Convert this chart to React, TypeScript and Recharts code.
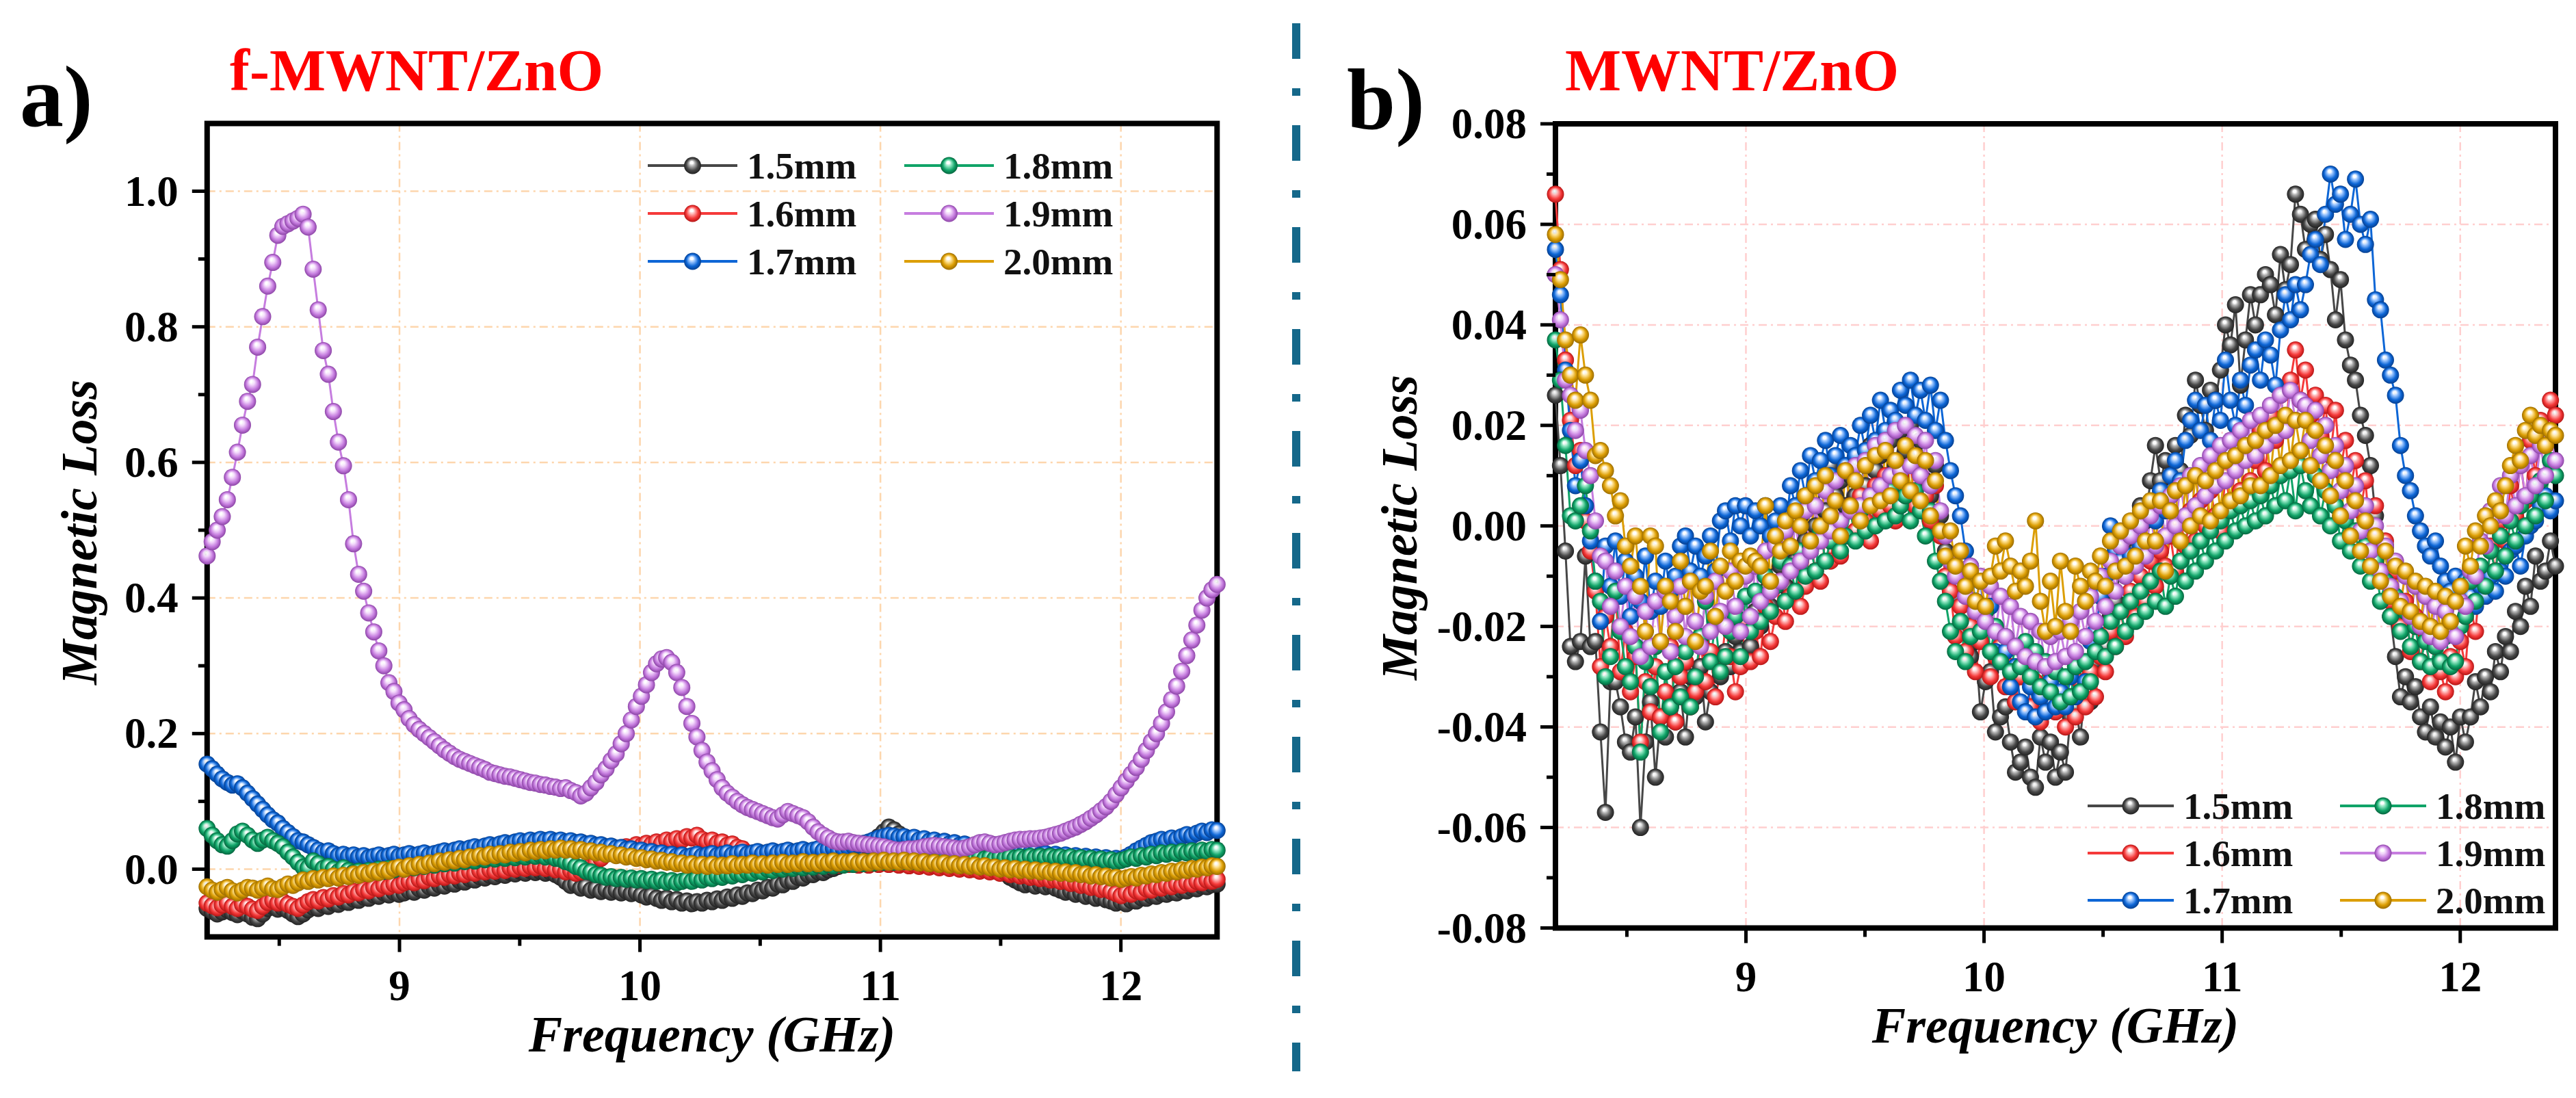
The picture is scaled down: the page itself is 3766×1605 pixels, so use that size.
import React from 'react';
import {
  LineChart,
  Line,
  XAxis,
  YAxis,
  CartesianGrid,
  ReferenceArea,
  Legend,
} from 'recharts';

const SERIF = '"Liberation Serif", "Times New Roman", Times, serif';

// Sweep frequencies (GHz), 201 points across the X band, shared by both panels
const FREQ_GHZ = [
  8.200, 8.221, 8.242, 8.263, 8.284, 8.305, 8.326, 8.347, 8.368, 8.389,
  8.410, 8.431, 8.452, 8.473, 8.494, 8.515, 8.536, 8.557, 8.578, 8.599,
  8.620, 8.641, 8.662, 8.683, 8.704, 8.725, 8.746, 8.767, 8.788, 8.809,
  8.830, 8.851, 8.872, 8.893, 8.914, 8.935, 8.956, 8.977, 8.998, 9.019,
  9.040, 9.061, 9.082, 9.103, 9.124, 9.145, 9.166, 9.187, 9.208, 9.229,
  9.250, 9.271, 9.292, 9.313, 9.334, 9.355, 9.376, 9.397, 9.418, 9.439,
  9.460, 9.481, 9.502, 9.523, 9.544, 9.565, 9.586, 9.607, 9.628, 9.649,
  9.670, 9.691, 9.712, 9.733, 9.754, 9.775, 9.796, 9.817, 9.838, 9.859,
  9.880, 9.901, 9.922, 9.943, 9.964, 9.985, 10.006, 10.027, 10.048, 10.069,
  10.090, 10.111, 10.132, 10.153, 10.174, 10.195, 10.216, 10.237, 10.258, 10.279,
  10.300, 10.321, 10.342, 10.363, 10.384, 10.405, 10.426, 10.447, 10.468, 10.489,
  10.510, 10.531, 10.552, 10.573, 10.594, 10.615, 10.636, 10.657, 10.678, 10.699,
  10.720, 10.741, 10.762, 10.783, 10.804, 10.825, 10.846, 10.867, 10.888, 10.909,
  10.930, 10.951, 10.972, 10.993, 11.014, 11.035, 11.056, 11.077, 11.098, 11.119,
  11.140, 11.161, 11.182, 11.203, 11.224, 11.245, 11.266, 11.287, 11.308, 11.329,
  11.350, 11.371, 11.392, 11.413, 11.434, 11.455, 11.476, 11.497, 11.518, 11.539,
  11.560, 11.581, 11.602, 11.623, 11.644, 11.665, 11.686, 11.707, 11.728, 11.749,
  11.770, 11.791, 11.812, 11.833, 11.854, 11.875, 11.896, 11.917, 11.938, 11.959,
  11.980, 12.001, 12.022, 12.043, 12.064, 12.085, 12.106, 12.127, 12.148, 12.169,
  12.190, 12.211, 12.232, 12.253, 12.274, 12.295, 12.316, 12.337, 12.358, 12.379,
  12.400,
];

// ---- panel a: f-MWNT/ZnO magnetic loss ----
const A_15MM = [
  -0.058, -0.062, -0.066, -0.063, -0.060, -0.064, -0.067, -0.062, -0.066, -0.071,
  -0.073, -0.066, -0.058, -0.055, -0.059, -0.057, -0.061, -0.066, -0.070, -0.066,
  -0.060, -0.056, -0.058, -0.053, -0.055, -0.050, -0.052, -0.047, -0.049, -0.044,
  -0.046, -0.041, -0.043, -0.038, -0.040, -0.035, -0.038, -0.034, -0.037, -0.035,
  -0.032, -0.034, -0.029, -0.031, -0.026, -0.028, -0.023, -0.025, -0.020, -0.022,
  -0.017, -0.019, -0.014, -0.016, -0.011, -0.013, -0.009, -0.011, -0.007, -0.009,
  -0.005, -0.007, -0.003, -0.006, -0.002, -0.005, -0.003, -0.006, -0.004, -0.008,
  -0.012, -0.018, -0.024, -0.022, -0.028, -0.026, -0.031, -0.029, -0.033, -0.030,
  -0.034, -0.031, -0.035, -0.032, -0.036, -0.034, -0.038, -0.041, -0.039, -0.043,
  -0.046, -0.043, -0.048, -0.045, -0.050, -0.047, -0.051, -0.048, -0.050, -0.046,
  -0.048, -0.044, -0.046, -0.041, -0.043, -0.038, -0.040, -0.035, -0.036, -0.031,
  -0.032, -0.027, -0.028, -0.022, -0.023, -0.017, -0.018, -0.012, -0.013, -0.008,
  -0.008, -0.004, -0.005, -0.001, 0.001, 0.004, 0.008, 0.012, 0.016, 0.020,
  0.026, 0.032, 0.040, 0.048, 0.055, 0.062, 0.058, 0.052, 0.048, 0.044,
  0.046, 0.041, 0.043, 0.038, 0.040, 0.035, 0.037, 0.033, 0.034, 0.030,
  0.031, 0.026, 0.024, 0.018, 0.014, 0.008, 0.004, -0.002, -0.006, -0.012,
  -0.016, -0.020, -0.023, -0.021, -0.025, -0.022, -0.026, -0.024, -0.028, -0.031,
  -0.034, -0.032, -0.037, -0.035, -0.040, -0.038, -0.043, -0.041, -0.045, -0.047,
  -0.050, -0.048, -0.051, -0.046, -0.047, -0.042, -0.043, -0.039, -0.040, -0.036,
  -0.037, -0.034, -0.035, -0.031, -0.032, -0.028, -0.029, -0.025, -0.026, -0.023,
  -0.022,
];
const A_16MM = [
  -0.050, -0.054, -0.057, -0.053, -0.050, -0.055, -0.058, -0.052, -0.055, -0.059,
  -0.061, -0.055, -0.049, -0.046, -0.050, -0.048, -0.052, -0.055, -0.058, -0.053,
  -0.048, -0.045, -0.047, -0.042, -0.044, -0.039, -0.041, -0.036, -0.038, -0.033,
  -0.035, -0.030, -0.032, -0.027, -0.029, -0.024, -0.026, -0.022, -0.024, -0.020,
  -0.018, -0.020, -0.015, -0.017, -0.012, -0.014, -0.010, -0.012, -0.008, -0.010,
  -0.006, -0.008, -0.004, -0.006, -0.002, -0.004, -0.001, -0.003, 0.000, -0.002,
  0.002, 0.000, 0.003, 0.001, 0.004, 0.002, 0.005, 0.001, 0.003, -0.001,
  0.000, -0.004, -0.002, -0.006, -0.004, -0.001, 0.004, 0.010, 0.016, 0.022,
  0.026, 0.030, 0.028, 0.033, 0.031, 0.036, 0.034, 0.038, 0.036, 0.040,
  0.038, 0.043, 0.041, 0.045, 0.043, 0.048, 0.046, 0.050, 0.044, 0.041,
  0.043, 0.038, 0.040, 0.035, 0.037, 0.032, 0.030, 0.024, 0.020, 0.015,
  0.012, 0.009, 0.010, 0.007, 0.009, 0.006, 0.008, 0.006, 0.008, 0.005,
  0.007, 0.005, 0.008, 0.006, 0.009, 0.006, 0.008, 0.007, 0.009, 0.006,
  0.008, 0.006, 0.009, 0.007, 0.010, 0.007, 0.009, 0.006, 0.008, 0.005,
  0.007, 0.004, 0.006, 0.003, 0.005, 0.002, 0.004, 0.001, 0.003, 0.000,
  0.002, -0.001, 0.000, -0.003, -0.001, -0.004, -0.002, -0.006, -0.004, -0.008,
  -0.007, -0.010, -0.009, -0.012, -0.011, -0.014, -0.013, -0.016, -0.015, -0.018,
  -0.017, -0.021, -0.020, -0.024, -0.023, -0.027, -0.026, -0.030, -0.029, -0.033,
  -0.036, -0.039, -0.035, -0.037, -0.032, -0.034, -0.029, -0.031, -0.026, -0.028,
  -0.024, -0.026, -0.022, -0.024, -0.020, -0.022, -0.018, -0.020, -0.016, -0.018,
  -0.015,
];
const A_17MM = [
  0.155, 0.148, 0.140, 0.133, 0.128, 0.124, 0.126, 0.120, 0.112, 0.104,
  0.096, 0.088, 0.080, 0.073, 0.068, 0.060, 0.054, 0.048, 0.042, 0.040,
  0.036, 0.032, 0.028, 0.025, 0.027, 0.023, 0.020, 0.022, 0.019, 0.021,
  0.018, 0.020, 0.017, 0.019, 0.021, 0.018, 0.020, 0.022, 0.019, 0.021,
  0.023, 0.020, 0.022, 0.024, 0.021, 0.023, 0.025, 0.027, 0.025, 0.028,
  0.030, 0.028, 0.031, 0.033, 0.031, 0.034, 0.036, 0.034, 0.037, 0.039,
  0.037, 0.040, 0.042, 0.040, 0.043, 0.041, 0.044, 0.042, 0.044, 0.041,
  0.043, 0.040, 0.042, 0.039, 0.040, 0.037, 0.038, 0.035, 0.036, 0.033,
  0.034, 0.031, 0.032, 0.029, 0.030, 0.027, 0.028, 0.025, 0.026, 0.023,
  0.024, 0.021, 0.022, 0.019, 0.021, 0.018, 0.020, 0.022, 0.019, 0.021,
  0.023, 0.020, 0.022, 0.024, 0.021, 0.023, 0.025, 0.022, 0.024, 0.026,
  0.023, 0.025, 0.027, 0.024, 0.026, 0.028, 0.025, 0.027, 0.029, 0.026,
  0.028, 0.030, 0.027, 0.029, 0.031, 0.028, 0.030, 0.032, 0.034, 0.036,
  0.038, 0.040, 0.043, 0.046, 0.048, 0.050, 0.049, 0.047, 0.048, 0.045,
  0.047, 0.043, 0.045, 0.041, 0.043, 0.039, 0.041, 0.037, 0.039, 0.035,
  0.037, 0.033, 0.035, 0.031, 0.033, 0.029, 0.031, 0.027, 0.029, 0.026,
  0.028, 0.024, 0.026, 0.023, 0.025, 0.021, 0.023, 0.020, 0.022, 0.019,
  0.021, 0.018, 0.020, 0.017, 0.019, 0.016, 0.018, 0.015, 0.017, 0.014,
  0.016, 0.014, 0.018, 0.022, 0.027, 0.031, 0.035, 0.039, 0.041, 0.044,
  0.042, 0.046, 0.044, 0.048, 0.051, 0.049, 0.053, 0.056, 0.054, 0.058,
  0.057,
];
const A_18MM = [
  0.060, 0.050, 0.042, 0.036, 0.034, 0.042, 0.052, 0.056, 0.050, 0.043,
  0.038, 0.043, 0.047, 0.042, 0.038, 0.033, 0.025, 0.018, 0.010, 0.003,
  0.002, 0.012, 0.008, 0.001, 0.004, 0.000, -0.004, 0.002, -0.002, -0.005,
  -0.003, -0.006, -0.002, -0.004, 0.000, -0.003, 0.001, -0.001, 0.002, 0.000,
  0.004, 0.002, 0.006, 0.004, 0.008, 0.006, 0.010, 0.008, 0.011, 0.009,
  0.013, 0.011, 0.014, 0.012, 0.016, 0.014, 0.017, 0.015, 0.018, 0.016,
  0.019, 0.017, 0.020, 0.018, 0.021, 0.019, 0.021, 0.018, 0.020, 0.016,
  0.015, 0.011, 0.009, 0.004, 0.002, -0.003, -0.004, -0.008, -0.009, -0.012,
  -0.011, -0.014, -0.012, -0.015, -0.013, -0.016, -0.014, -0.017, -0.015, -0.018,
  -0.016, -0.019, -0.017, -0.020, -0.018, -0.016, -0.018, -0.014, -0.016, -0.012,
  -0.014, -0.010, -0.012, -0.008, -0.010, -0.006, -0.008, -0.004, -0.006, -0.002,
  -0.004, 0.000, -0.002, 0.002, 0.000, 0.003, 0.001, 0.004, 0.002, 0.005,
  0.003, 0.006, 0.004, 0.007, 0.005, 0.008, 0.006, 0.009, 0.007, 0.010,
  0.008, 0.011, 0.009, 0.012, 0.010, 0.012, 0.010, 0.013, 0.011, 0.013,
  0.011, 0.014, 0.012, 0.014, 0.012, 0.015, 0.013, 0.015, 0.013, 0.016,
  0.014, 0.016, 0.014, 0.017, 0.015, 0.017, 0.015, 0.018, 0.016, 0.018,
  0.016, 0.018, 0.016, 0.019, 0.017, 0.019, 0.017, 0.019, 0.017, 0.018,
  0.016, 0.018, 0.015, 0.017, 0.014, 0.016, 0.013, 0.015, 0.012, 0.014,
  0.011, 0.013, 0.015, 0.018, 0.016, 0.020, 0.018, 0.022, 0.020, 0.024,
  0.022, 0.025, 0.023, 0.026, 0.024, 0.027, 0.025, 0.028, 0.026, 0.029,
  0.028,
];
const A_19MM = [
  0.462, 0.483, 0.500, 0.520, 0.545, 0.578, 0.615, 0.655, 0.690, 0.715,
  0.770, 0.815, 0.860, 0.895, 0.935, 0.948, 0.952, 0.956, 0.960, 0.966,
  0.947, 0.885, 0.825, 0.765, 0.730, 0.675, 0.630, 0.595, 0.545, 0.480,
  0.435, 0.410, 0.378, 0.350, 0.322, 0.300, 0.275, 0.262, 0.245, 0.235,
  0.222, 0.213, 0.206, 0.200, 0.194, 0.188, 0.182, 0.176, 0.171, 0.166,
  0.162, 0.159, 0.156, 0.153, 0.150, 0.147, 0.143, 0.141, 0.139, 0.137,
  0.136, 0.134, 0.132, 0.130, 0.128, 0.127, 0.125, 0.124, 0.122, 0.121,
  0.119, 0.120, 0.116, 0.113, 0.108, 0.112, 0.120, 0.128, 0.139, 0.148,
  0.160, 0.170, 0.185, 0.200, 0.220, 0.240, 0.255, 0.272, 0.290, 0.303,
  0.310, 0.312, 0.305, 0.290, 0.268, 0.240, 0.215, 0.195, 0.175, 0.158,
  0.145, 0.132, 0.120, 0.112, 0.106, 0.100, 0.095, 0.091, 0.088, 0.085,
  0.082, 0.079, 0.076, 0.074, 0.080, 0.085, 0.082, 0.079, 0.076, 0.070,
  0.062, 0.055, 0.050, 0.046, 0.042, 0.040, 0.040, 0.041, 0.039, 0.038,
  0.037, 0.036, 0.035, 0.034, 0.033, 0.031, 0.029, 0.028, 0.029, 0.030,
  0.030, 0.031, 0.033, 0.034, 0.035, 0.034, 0.033, 0.032, 0.031, 0.030,
  0.031, 0.033, 0.036, 0.039, 0.040, 0.038, 0.036, 0.037, 0.039, 0.041,
  0.043, 0.044, 0.044, 0.045, 0.045, 0.046, 0.047, 0.049, 0.051, 0.053,
  0.056, 0.059, 0.062, 0.066, 0.070, 0.075, 0.080, 0.086, 0.092, 0.100,
  0.110, 0.120, 0.130, 0.140, 0.150, 0.162, 0.175, 0.188, 0.200, 0.215,
  0.232, 0.250, 0.270, 0.292, 0.315, 0.338, 0.360, 0.382, 0.400, 0.412,
  0.420,
];
const A_20MM = [
  -0.026, -0.031, -0.034, -0.030, -0.027, -0.032, -0.035, -0.031, -0.027, -0.028,
  -0.031, -0.028, -0.025, -0.029, -0.030, -0.026, -0.022, -0.024, -0.020, -0.016,
  -0.018, -0.014, -0.016, -0.012, -0.014, -0.010, -0.013, -0.009, -0.011, -0.007,
  -0.009, -0.005, -0.007, -0.003, -0.005, -0.001, -0.003, 0.001, 0.003, 0.000,
  0.005, 0.003, 0.007, 0.005, 0.009, 0.008, 0.012, 0.010, 0.014, 0.012,
  0.016, 0.014, 0.018, 0.017, 0.020, 0.018, 0.022, 0.020, 0.023, 0.021,
  0.025, 0.023, 0.026, 0.024, 0.028, 0.026, 0.029, 0.027, 0.030, 0.028,
  0.031, 0.028, 0.030, 0.027, 0.029, 0.026, 0.027, 0.024, 0.025, 0.022,
  0.023, 0.020, 0.021, 0.018, 0.019, 0.016, 0.017, 0.014, 0.015, 0.012,
  0.013, 0.010, 0.011, 0.008, 0.009, 0.006, 0.008, 0.005, 0.007, 0.004,
  0.007, 0.004, 0.006, 0.005, 0.008, 0.005, 0.007, 0.006, 0.009, 0.006,
  0.008, 0.006, 0.009, 0.007, 0.010, 0.007, 0.009, 0.008, 0.011, 0.008,
  0.010, 0.008, 0.011, 0.009, 0.012, 0.009, 0.011, 0.010, 0.012, 0.009,
  0.011, 0.009, 0.012, 0.010, 0.013, 0.010, 0.012, 0.010, 0.013, 0.010,
  0.012, 0.009, 0.011, 0.008, 0.010, 0.007, 0.009, 0.006, 0.008, 0.005,
  0.007, 0.004, 0.006, 0.003, 0.005, 0.002, 0.003, 0.000, 0.002, -0.001,
  0.001, -0.002, 0.000, -0.003, -0.001, -0.004, -0.002, -0.005, -0.003, -0.006,
  -0.004, -0.007, -0.005, -0.008, -0.007, -0.010, -0.008, -0.011, -0.010, -0.013,
  -0.012, -0.015, -0.013, -0.011, -0.013, -0.009, -0.010, -0.007, -0.008, -0.005,
  -0.006, -0.003, -0.004, -0.001, -0.002, 0.001, 0.000, 0.003, 0.002, 0.005,
  0.004,
];

// ---- panel b: MWNT/ZnO magnetic loss ----
const B_15MM = [
  0.026, 0.012, -0.005, -0.024, -0.027, -0.023, -0.006, -0.024, -0.023, -0.041,
  -0.057, -0.031, -0.031, -0.036, -0.043, -0.045, -0.038, -0.060, -0.043, -0.035,
  -0.050, -0.038, -0.042, -0.036, -0.039, -0.033, -0.042, -0.030, -0.034, -0.028,
  -0.039, -0.033, -0.027, -0.030, -0.025, -0.028, -0.022, -0.025, -0.020, -0.024,
  -0.017, -0.020, -0.013, -0.016, -0.010, -0.008, -0.012, -0.005, -0.007, 0.002,
  -0.003, 0.004, 0.000, 0.008, 0.003, 0.012, 0.006, 0.009, 0.004, 0.010,
  0.006, 0.013, 0.008, 0.016, 0.011, 0.014, 0.009, 0.017, 0.012, 0.019,
  0.015, 0.020, 0.012, 0.017, 0.009, 0.006, 0.012, 0.002, -0.005, -0.010,
  -0.014, -0.021, -0.018, -0.026, -0.023, -0.037, -0.031, -0.029, -0.041, -0.038,
  -0.036, -0.043, -0.049, -0.047, -0.044, -0.050, -0.052, -0.042, -0.047, -0.043,
  -0.050, -0.045, -0.049, -0.038, -0.036, -0.042, -0.031, -0.035, -0.027, -0.022,
  -0.024, -0.018, -0.015, -0.008, -0.010, -0.002, -0.005, 0.004, 0.001, 0.009,
  0.016, 0.009, 0.013, 0.006, 0.016, 0.011, 0.022, 0.018, 0.029, 0.024,
  0.019, 0.027, 0.025, 0.031, 0.040, 0.036, 0.044, 0.028, 0.037, 0.046,
  0.040, 0.046, 0.050, 0.048, 0.042, 0.054, 0.047, 0.052, 0.066, 0.062,
  0.055, 0.060, 0.061, 0.053, 0.058, 0.051, 0.041, 0.049, 0.037, 0.032,
  0.029, 0.022, 0.018, 0.012, 0.002, -0.009, -0.004, -0.018, -0.026, -0.034,
  -0.030, -0.035, -0.032, -0.038, -0.041, -0.036, -0.042, -0.039, -0.044, -0.040,
  -0.047, -0.038, -0.043, -0.038, -0.031, -0.036, -0.030, -0.033, -0.025, -0.029,
  -0.022, -0.025, -0.017, -0.020, -0.012, -0.016, -0.006, -0.011, -0.009, -0.003,
  -0.008,
];
const B_16MM = [
  0.066, 0.051, 0.033, 0.021, 0.012, 0.015, 0.001, -0.005, -0.013, -0.028,
  -0.018, -0.024, -0.013, -0.029, -0.021, -0.033, -0.026, -0.043, -0.031, -0.037,
  -0.028, -0.038, -0.033, -0.024, -0.039, -0.030, -0.027, -0.036, -0.033, -0.023,
  -0.031, -0.025, -0.034, -0.029, -0.020, -0.026, -0.033, -0.028, -0.019, -0.027,
  -0.021, -0.026, -0.016, -0.023, -0.018, -0.011, -0.019, -0.014, -0.008, -0.016,
  -0.012, -0.003, -0.009, -0.011, -0.002, -0.007, 0.001, -0.006, -0.002, 0.004,
  -0.001, 0.006, 0.001, -0.003, 0.008, 0.003, 0.010, 0.004, 0.001, 0.010,
  0.007, 0.012, 0.004, 0.010, 0.006, 0.001, 0.008, -0.002, -0.010, -0.013,
  -0.022, -0.016, -0.025, -0.020, -0.029, -0.023, -0.019, -0.030, -0.026, -0.024,
  -0.032, -0.028, -0.035, -0.030, -0.027, -0.036, -0.031, -0.039, -0.033, -0.029,
  -0.037, -0.033, -0.040, -0.034, -0.038, -0.031, -0.036, -0.029, -0.034, -0.026,
  -0.029, -0.021, -0.024, -0.017, -0.022, -0.013, -0.018, -0.010, -0.015, -0.007,
  -0.012, -0.005, -0.008, -0.002, -0.009, 0.001, -0.004, 0.003, -0.003, 0.005,
  0.000, 0.007, 0.002, -0.001, 0.010, 0.004, 0.012, 0.007, 0.015, 0.009,
  0.013, 0.019, 0.011, 0.022, 0.017, 0.026, 0.019, 0.029, 0.035, 0.025,
  0.031, 0.022, 0.026, 0.018, 0.024, 0.014, 0.023, 0.011, 0.017, 0.007,
  0.013, 0.003, 0.009, -0.003, 0.004, -0.009, -0.003, -0.015, -0.009, -0.020,
  -0.015, -0.025, -0.018, -0.027, -0.021, -0.031, -0.024, -0.029, -0.033, -0.026,
  -0.030, -0.023, -0.028, -0.016, -0.021, -0.010, -0.014, -0.004, -0.009, 0.001,
  -0.003, 0.008, 0.002, 0.013, 0.005, 0.017, 0.010, 0.021, 0.016, 0.025,
  0.022,
];
const B_17MM = [
  0.055, 0.046, 0.031, 0.019, 0.008, 0.013, 0.004, -0.003, -0.011, -0.019,
  -0.004, -0.012, -0.003, -0.014, -0.007, -0.018, -0.010, -0.015, -0.006, -0.017,
  -0.011, -0.016, -0.007, -0.013, -0.010, -0.004, -0.002, -0.009, -0.004, -0.010,
  -0.006, -0.002, -0.009, 0.001, 0.003, -0.003, 0.004, 0.000, 0.004, -0.002,
  0.003, 0.000, 0.004, -0.002, 0.001, 0.004, -0.001, 0.008, 0.004, 0.011,
  0.006, 0.014, 0.009, 0.013, 0.017, 0.010, 0.014, 0.018, 0.012, 0.016,
  0.014, 0.020, 0.015, 0.022, 0.017, 0.025, 0.019, 0.023, 0.021, 0.027,
  0.024, 0.029, 0.022, 0.027, 0.021, 0.028, 0.019, 0.025, 0.017, 0.011,
  0.006, 0.002, -0.005, -0.008, -0.015, -0.011, -0.020, -0.016, -0.025, -0.027,
  -0.025, -0.032, -0.028, -0.035, -0.037, -0.032, -0.038, -0.034, -0.037, -0.031,
  -0.036, -0.033, -0.036, -0.030, -0.034, -0.027, -0.031, -0.023, -0.021, -0.014,
  -0.010, 0.000, -0.005, -0.007, -0.001, -0.006, 0.001, -0.004, 0.002, 0.003,
  0.001, 0.007, 0.003, 0.010, 0.013, 0.009, 0.017, 0.021, 0.025, 0.019,
  0.024, 0.017, 0.025, 0.021, 0.033, 0.025, 0.020, 0.029, 0.024, 0.032,
  0.035, 0.029, 0.037, 0.034, 0.028, 0.039, 0.046, 0.041, 0.048, 0.043,
  0.048, 0.054, 0.057, 0.052, 0.062, 0.070, 0.064, 0.066, 0.057, 0.062,
  0.069, 0.060, 0.056, 0.061, 0.045, 0.043, 0.033, 0.030, 0.026, 0.016,
  0.010, 0.007, 0.002, -0.001, -0.004, -0.006, -0.003, -0.008, -0.011, -0.013,
  -0.010, -0.015, -0.011, -0.014, -0.016, -0.012, -0.014, -0.010, -0.013, -0.009,
  -0.010, -0.005, -0.004, -0.008, -0.002, 0.000, 0.001, 0.004, 0.006, 0.003,
  0.005,
];
const B_18MM = [
  0.037, 0.029, 0.016, 0.002, 0.001, 0.004, 0.008, -0.001, -0.011, -0.015,
  -0.030, -0.026, -0.013, -0.021, -0.028, -0.031, -0.024, -0.045, -0.027, -0.032,
  -0.024, -0.041, -0.029, -0.036, -0.028, -0.034, -0.025, -0.036, -0.030, -0.022,
  -0.015, -0.027, -0.019, -0.029, -0.026, -0.021, -0.018, -0.026, -0.014, -0.021,
  -0.013, -0.019, -0.010, -0.017, -0.012, -0.007, -0.015, -0.008, -0.013, -0.005,
  -0.010, -0.004, -0.009, -0.001, -0.007, -0.003, 0.001, -0.005, -0.002, 0.003,
  -0.003, 0.003, -0.001, 0.005, 0.000, 0.006, 0.001, 0.007, 0.002, 0.004,
  0.006, 0.001, 0.007, 0.003, -0.002, 0.003, -0.007, -0.011, -0.015, -0.021,
  -0.025, -0.019, -0.027, -0.022, -0.015, -0.021, -0.017, -0.025, -0.020, -0.027,
  -0.022, -0.029, -0.024, -0.028, -0.023, -0.030, -0.025, -0.032, -0.027, -0.033,
  -0.029, -0.035, -0.030, -0.034, -0.028, -0.033, -0.027, -0.031, -0.025, -0.022,
  -0.026, -0.019, -0.024, -0.017, -0.021, -0.015, -0.019, -0.013, -0.017, -0.011,
  -0.015, -0.009, -0.016, -0.010, -0.014, -0.007, -0.011, -0.005, -0.009, -0.003,
  -0.007, -0.001, -0.005, 0.001, -0.003, 0.003, -0.001, 0.004, 0.000, 0.005,
  0.001, 0.006, 0.002, 0.008, 0.004, 0.010, 0.005, 0.011, 0.003, 0.012,
  0.007, 0.004, 0.010, 0.002, 0.007, 0.000, 0.004, -0.003, 0.001, -0.005,
  -0.001, -0.008, -0.004, -0.011, -0.007, -0.015, -0.011, -0.018, -0.014, -0.021,
  -0.017, -0.024, -0.020, -0.027, -0.023, -0.028, -0.024, -0.027, -0.022, -0.028,
  -0.027, -0.020, -0.018, -0.011, -0.015, -0.008, -0.012, -0.005, -0.009, -0.002,
  -0.006, 0.001, -0.003, 0.004, 0.000, 0.006, 0.002, 0.009, 0.005, 0.013,
  0.010,
];
const B_19MM = [
  0.050, 0.041, 0.029, 0.026, 0.019, 0.023, 0.015, 0.010, 0.001, -0.006,
  -0.007, -0.016, -0.009, -0.020, -0.012, -0.022, -0.014, -0.026, -0.017, -0.024,
  -0.015, -0.023, -0.013, -0.025, -0.018, -0.012, -0.022, -0.011, -0.019, -0.024,
  -0.014, -0.021, -0.011, -0.017, -0.020, -0.009, -0.016, -0.021, -0.010, -0.018,
  -0.008, -0.015, -0.005, -0.013, -0.004, -0.011, -0.001, -0.009, 0.001, -0.007,
  0.003, -0.005, 0.004, -0.003, 0.007, -0.001, 0.009, 0.001, 0.011, 0.003,
  0.012, 0.004, 0.013, 0.006, 0.016, 0.008, 0.017, 0.010, 0.019, 0.011,
  0.020, 0.012, 0.018, 0.010, 0.017, 0.008, 0.013, 0.003, -0.002, -0.007,
  -0.010, -0.005, -0.014, -0.008, -0.017, -0.010, -0.019, -0.012, -0.021, -0.014,
  -0.022, -0.016, -0.024, -0.018, -0.026, -0.019, -0.027, -0.021, -0.028, -0.022,
  -0.027, -0.021, -0.026, -0.019, -0.025, -0.017, -0.022, -0.014, -0.019, -0.010,
  -0.016, -0.007, -0.013, -0.004, -0.010, -0.002, -0.008, 0.000, -0.006, 0.002,
  -0.004, 0.004, -0.002, 0.006, 0.000, 0.008, 0.002, 0.010, 0.004, 0.012,
  0.006, 0.014, 0.008, 0.016, 0.009, 0.017, 0.011, 0.019, 0.013, 0.021,
  0.014, 0.022, 0.016, 0.024, 0.018, 0.026, 0.019, 0.027, 0.021, 0.025,
  0.024, 0.017, 0.023, 0.014, 0.020, 0.011, 0.016, 0.007, 0.012, 0.003,
  0.008, -0.001, 0.004, -0.005, 0.000, -0.009, -0.004, -0.012, -0.007, -0.015,
  -0.010, -0.018, -0.012, -0.020, -0.014, -0.022, -0.016, -0.023, -0.017, -0.021,
  -0.022, -0.015, -0.016, -0.009, -0.010, -0.003, -0.004, 0.003, 0.002, 0.008,
  0.002, 0.010, 0.004, 0.012, 0.006, 0.014, 0.008, 0.016, 0.010, 0.018,
  0.013,
];
const B_20MM = [
  0.058, 0.049, 0.037, 0.030, 0.025, 0.038, 0.030, 0.025, 0.014, 0.015,
  0.011, 0.008, 0.002, 0.005, -0.004, -0.008, -0.002, -0.012, -0.021, -0.002,
  -0.004, -0.023, -0.012, -0.015, -0.021, -0.007, -0.016, -0.011, -0.023, -0.013,
  -0.012, -0.005, -0.018, -0.008, -0.013, -0.005, -0.011, -0.007, -0.008, -0.006,
  -0.007, -0.008, 0.004, -0.011, -0.002, -0.005, 0.001, -0.004, 0.003, 0.000,
  0.006, -0.003, 0.008, 0.000, 0.010, 0.002, 0.005, -0.002, 0.011, 0.004,
  0.009, 0.001, 0.012, 0.004, 0.014, 0.005, 0.015, 0.006, 0.013, 0.009,
  0.016, 0.007, 0.014, 0.005, 0.013, 0.002, 0.009, -0.001, -0.006, -0.001,
  -0.008, -0.005, -0.012, -0.009, -0.015, -0.011, -0.016, -0.010, -0.004, -0.009,
  -0.003, -0.008, -0.013, -0.009, -0.012, -0.007, 0.001, -0.015, -0.021, -0.011,
  -0.020, -0.007, -0.017, -0.021, -0.008, -0.012, -0.015, -0.009, -0.011, -0.006,
  -0.012, -0.003, -0.009, -0.001, -0.008, 0.001, -0.006, 0.003, -0.003, 0.005,
  -0.003, 0.005, -0.009, 0.003, 0.007, -0.003, 0.008, 0.000, 0.010, 0.002,
  0.009, 0.001, 0.011, 0.003, 0.013, 0.005, 0.014, 0.006, 0.016, 0.008,
  0.017, 0.008, 0.019, 0.010, 0.020, 0.012, 0.022, 0.013, 0.021, 0.015,
  0.021, 0.012, 0.019, 0.009, 0.016, 0.006, 0.013, 0.002, 0.009, -0.002,
  0.005, -0.005, 0.001, -0.008, -0.002, -0.011, -0.005, -0.014, -0.008, -0.016,
  -0.009, -0.017, -0.011, -0.019, -0.012, -0.020, -0.013, -0.021, -0.014, -0.019,
  -0.015, -0.012, -0.004, -0.008, -0.001, -0.004, 0.002, 0.000, 0.005, 0.003,
  0.008, 0.012, 0.016, 0.013, 0.019, 0.022, 0.018, 0.020, 0.016, 0.019,
  0.018,
];

const THICKNESS = ['1.5mm', '1.6mm', '1.7mm', '1.8mm', '1.9mm', '2.0mm'];
const LINE_COLORS = ['#474747', '#f53a3a', '#0d66d6', '#10a468', '#c67ddf', '#dc9e04'];
const BALL_LIGHT = ['#b4b4b4', '#ffb4b4', '#9cc6ff', '#94e8c4', '#f2d6fb', '#ffe396'];
const BALL_DARK = ['#222222', '#b51515', '#063f8f', '#05653e', '#8c44a6', '#9a6c00'];

const X_TICKS = [8.5, 9, 9.5, 10, 10.5, 11, 11.5, 12];
const X_MAJOR = [9, 10, 11, 12];
const A_Y_TICKS = [0, 0.1, 0.2, 0.3, 0.4, 0.5, 0.6, 0.7, 0.8, 0.9, 1.0];
const A_Y_MAJOR = [0, 0.2, 0.4, 0.6, 0.8, 1.0];
const B_Y_TICKS = [
  -0.08, -0.07, -0.06, -0.05, -0.04, -0.03, -0.02, -0.01, 0,
  0.01, 0.02, 0.03, 0.04, 0.05, 0.06, 0.07, 0.08,
];
const B_Y_MAJOR = [-0.08, -0.06, -0.04, -0.02, 0, 0.02, 0.04, 0.06, 0.08];

const buildRows = (cols: number[][]) =>
  FREQ_GHZ.map((f, i) => {
    const row: Record<string, number> = { f };
    cols.forEach((c, k) => {
      row['s' + k] = c[i];
    });
    return row;
  });

const ROWS_A = buildRows([A_15MM, A_16MM, A_17MM, A_18MM, A_19MM, A_20MM]);
const ROWS_B = buildRows([B_15MM, B_16MM, B_17MM, B_18MM, B_19MM, B_20MM]);

const inList = (v: number, list: number[]) => list.some((m) => Math.abs(m - v) < 1e-9);

const TICK_FONT = { fontFamily: SERIF, fontWeight: 700, fontSize: 63, fill: '#000' };

function XTick(props: any) {
  const { x, y, payload } = props;
  const major = inList(payload.value, X_MAJOR);
  return (
    <g>
      <line x1={x} x2={x} y1={y} y2={y + (major ? 22 : 13)} stroke="#000" strokeWidth={5} />
      {major && (
        <text x={x} y={y + 92} textAnchor="middle" {...TICK_FONT}>
          {payload.value}
        </text>
      )}
    </g>
  );
}

const makeYTick = (major: number[], digits: number) =>
  function YTick(props: any) {
    const { x, y, payload } = props;
    const isMajor = inList(payload.value, major);
    return (
      <g>
        <line x1={x} x2={x - (isMajor ? 22 : 13)} y1={y} y2={y} stroke="#000" strokeWidth={5} />
        {isMajor && (
          <text x={x - 42} y={y + 21} textAnchor="end" {...TICK_FONT}>
            {Number(payload.value).toFixed(digits)}
          </text>
        )}
      </g>
    );
  };

type LegendSpec = {
  left: number;
  top: number;
  colX: number[];
  rowY: number[];
  lineLen: number;
  textDx: number;
};

function LegendBlock({ prefix, spec }: { prefix: string; spec: LegendSpec }) {
  return (
    <svg width={760} height={230} style={{ overflow: 'visible', display: 'block' }}>
      {THICKNESS.map((name, k) => {
        const x0 = spec.colX[Math.floor(k / 3)];
        const y = spec.rowY[k % 3];
        return (
          <g key={name}>
            <line x1={x0} x2={x0 + spec.lineLen} y1={y} y2={y} stroke={LINE_COLORS[k]} strokeWidth={4} />
            <circle cx={x0 + spec.lineLen / 2} cy={y} r={12.5} fill={`url(#${prefix}-ball-${k})`} />
            <text
              x={x0 + spec.textDx}
              y={y + 19}
              fontFamily={SERIF}
              fontWeight={700}
              fontSize={55}
              fill="#111"
            >
              {name}
            </text>
          </g>
        );
      })}
    </svg>
  );
}

type PanelProps = {
  prefix: string;
  rows: Record<string, number>[];
  width: number;
  height: number;
  margin: { top: number; right: number; bottom: number; left: number };
  yAxisWidth: number;
  yDomain: [number, number];
  yTicks: number[];
  yMajor: number[];
  yDigits: number;
  gridColor: string;
  legend: LegendSpec;
};

function Panel(p: PanelProps) {
  const YTick = makeYTick(p.yMajor, p.yDigits);
  return (
    <LineChart width={p.width} height={p.height} data={p.rows} margin={p.margin}>
      <defs>
        {LINE_COLORS.map((c, k) => (
          <radialGradient
            key={k}
            id={`${p.prefix}-ball-${k}`}
            cx="50%"
            cy="50%"
            r="50%"
            fx="44%"
            fy="30%"
          >
            <stop offset="0%" stopColor="#ffffff" />
            <stop offset="16%" stopColor="#ffffff" stopOpacity={0.9} />
            <stop offset="34%" stopColor={BALL_LIGHT[k]} />
            <stop offset="70%" stopColor={c} />
            <stop offset="100%" stopColor={BALL_DARK[k]} />
          </radialGradient>
        ))}
      </defs>
      <CartesianGrid
        horizontalValues={p.yMajor}
        verticalValues={X_MAJOR}
        stroke={p.gridColor}
        strokeWidth={2.5}
        strokeDasharray="12 6 3 6"
      />
      <XAxis
        type="number"
        dataKey="f"
        domain={[8.2, 12.4]}
        ticks={X_TICKS}
        interval={0}
        tick={XTick}
        tickLine={false}
        axisLine={false}
        tickSize={0}
        tickMargin={0}
        height={120}
      />
      <YAxis
        type="number"
        domain={p.yDomain}
        ticks={p.yTicks}
        interval={0}
        tick={YTick}
        tickLine={false}
        axisLine={false}
        tickSize={0}
        tickMargin={0}
        width={p.yAxisWidth}
      />
      {THICKNESS.map((name, k) => (
        <Line
          key={name}
          type="linear"
          dataKey={'s' + k}
          name={name}
          stroke={LINE_COLORS[k]}
          strokeWidth={3}
          dot={{ r: 12.5, fill: `url(#${p.prefix}-ball-${k})`, stroke: 'none', strokeWidth: 0 }}
          activeDot={false}
          isAnimationActive={false}
        />
      ))}
      <ReferenceArea
        x1={8.2}
        x2={12.4}
        y1={p.yDomain[0]}
        y2={p.yDomain[1]}
        fill="none"
        fillOpacity={0}
        stroke="#000"
        strokeWidth={8}
        ifOverflow="visible"
      />
      <Legend
        layout="horizontal"
        verticalAlign="middle"
        align="center"
        wrapperStyle={{ left: p.legend.left, top: p.legend.top, width: 760, height: 230 }}
        content={() => <LegendBlock prefix={p.prefix} spec={p.legend} />}
      />
    </LineChart>
  );
}

const TITLE_FONT = { fontFamily: SERIF, fontWeight: 700 };
const AXIS_TITLE_FONT = { fontFamily: SERIF, fontWeight: 700, fontStyle: 'italic', fontSize: 74, fill: '#000' };

export default function App() {
  return (
    <div
      style={{
        position: 'absolute',
        left: 0,
        top: 0,
        width: 3766,
        height: 1605,
        background: '#fff',
        overflow: 'hidden',
      }}
    >
      <div style={{ position: 'absolute', left: 0, top: 0 }}>
        <Panel
          prefix="pa"
          rows={ROWS_A}
          width={1890}
          height={1605}
          margin={{ top: 180.4, right: 110.7, bottom: 115.4, left: 182.8 }}
          yAxisWidth={120}
          yDomain={[-0.1, 1.1]}
          yTicks={A_Y_TICKS}
          yMajor={A_Y_MAJOR}
          yDigits={1}
          gridColor="#fdd6ad"
          legend={{ left: 940, top: 205, colX: [7, 382], rowY: [37, 107, 177], lineLen: 131, textDx: 145 }}
        />
      </div>
      <div style={{ position: 'absolute', left: 1900, top: 0 }}>
        <Panel
          prefix="pb"
          rows={ROWS_B}
          width={1866}
          height={1605}
          margin={{ top: 181, right: 30, bottom: 128.5, left: 214 }}
          yAxisWidth={160}
          yDomain={[-0.08, 0.08]}
          yTicks={B_Y_TICKS}
          yMajor={B_Y_MAJOR}
          yDigits={2}
          gridColor="#ffcfcf"
          legend={{ left: 1145, top: 1140, colX: [7, 376], rowY: [38, 107, 176], lineLen: 126, textDx: 140 }}
        />
      </div>
      <svg
        width={3766}
        height={1605}
        style={{ position: 'absolute', left: 0, top: 0, pointerEvents: 'none' }}
      >
        <text x={29} y={184} fontSize={128} fill="#000" {...TITLE_FONT}>
          a)
        </text>
        <text x={336} y={132} fontSize={87} fill="#ff0000" {...TITLE_FONT}>
          f-MWNT/ZnO
        </text>
        <text x={1969} y={188} fontSize={128} fill="#000" {...TITLE_FONT}>
          b)
        </text>
        <text x={2288} y={132} fontSize={87} fill="#ff0000" {...TITLE_FONT}>
          MWNT/ZnO
        </text>
        <text x={141} y={778} textAnchor="middle" transform="rotate(-90 141 778)" {...AXIS_TITLE_FONT}>
          Magnetic Loss
        </text>
        <text x={2071} y={771} textAnchor="middle" transform="rotate(-90 2071 771)" {...AXIS_TITLE_FONT}>
          Magnetic Loss
        </text>
        <text x={1041} y={1537} textAnchor="middle" {...AXIS_TITLE_FONT}>
          Frequency (GHz)
        </text>
        <text x={3005} y={1524} textAnchor="middle" {...AXIS_TITLE_FONT}>
          Frequency (GHz)
        </text>
        <line
          x1={1895}
          x2={1895}
          y1={34}
          y2={1566}
          stroke="#15688a"
          strokeWidth={12}
          strokeDasharray="52 43 11 43"
        />
      </svg>
    </div>
  );
}
